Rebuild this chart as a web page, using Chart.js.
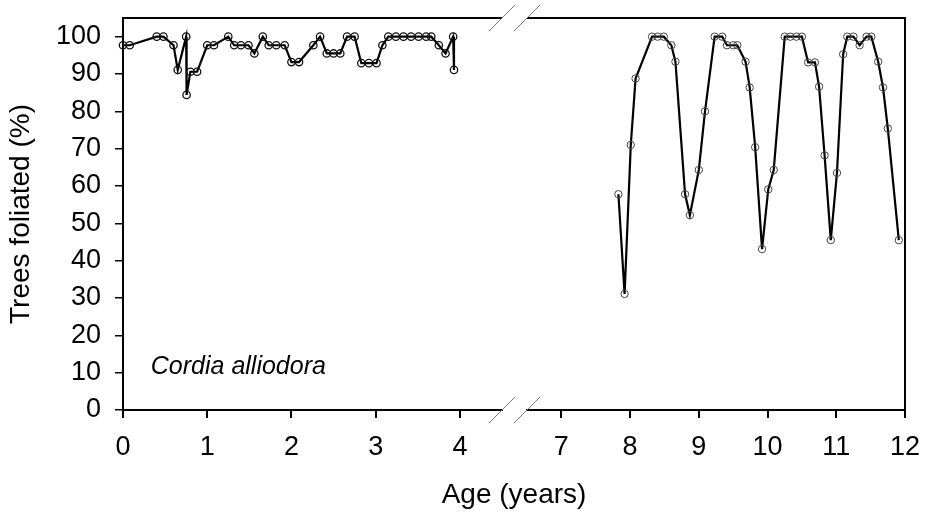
<!DOCTYPE html>
<html><head><meta charset="utf-8">
<script src="https://cdn.jsdelivr.net/npm/chart.js@4/dist/chart.umd.min.js"></script>
<style>html,body{margin:0;padding:0;background:#fff}</style>
</head><body>
<canvas id="c" width="927" height="516" style="width:927px;height:516px;display:block"></canvas>
<script>
// ---- data ----
const leftAges = [0.00, 0.08, 0.40, 0.48, 0.60, 0.65, 0.75, 0.755, 0.80, 0.88, 1.00, 1.08, 1.25, 1.32, 1.40, 1.49, 1.56, 1.66, 1.73, 1.82, 1.92, 2.00, 2.09, 2.26, 2.34, 2.42, 2.50, 2.58, 2.66, 2.75, 2.83, 2.92, 3.01, 3.08, 3.15, 3.24, 3.33, 3.42, 3.51, 3.60, 3.66, 3.75, 3.83, 3.92, 3.93];
const leftFoliated = [97.7, 97.7, 100, 100, 97.7, 91.1, 100, 84.4, 90.6, 90.6, 97.7, 97.7, 100, 97.7, 97.7, 97.7, 95.5, 100, 97.7, 97.7, 97.7, 93.2, 93.2, 97.7, 100, 95.5, 95.5, 95.5, 100, 100, 92.9, 92.9, 92.9, 97.7, 100, 100, 100, 100, 100, 100, 100, 97.7, 95.5, 100, 91.1];
const rightAges = [7.83, 7.92, 8.01, 8.08, 8.32, 8.40, 8.49, 8.60, 8.66, 8.80, 8.87, 9.00, 9.09, 9.23, 9.34, 9.41, 9.50, 9.56, 9.68, 9.74, 9.82, 9.92, 10.01, 10.09, 10.25, 10.33, 10.42, 10.50, 10.59, 10.69, 10.75, 10.83, 10.92, 11.01, 11.10, 11.16, 11.25, 11.34, 11.44, 11.51, 11.61, 11.68, 11.75, 11.91];
const rightFoliated = [57.8, 31.1, 71.0, 88.8, 100, 100, 100, 97.7, 93.3, 57.8, 52.2, 64.3, 80.0, 100, 100, 97.7, 97.7, 97.7, 93.3, 86.4, 70.4, 43.1, 59.1, 64.3, 100, 100, 100, 100, 93.1, 93.1, 86.6, 68.2, 45.5, 63.5, 95.3, 100, 100, 97.7, 100, 100, 93.3, 86.4, 75.4, 45.5];
const leftTicks = [0, 1, 2, 3, 4];
const rightTicks = [7, 8, 9, 10, 11, 12];
const yTicks = [0, 10, 20, 30, 40, 50, 60, 70, 80, 90, 100];
const leftRange = [0, 4.5];
const rightRange = [6.5, 12];
const yRange = [0, 105];
const xTitle = 'Age (years)';
const yTitle = 'Trees foliated (%)';
const speciesLabel = 'Cordia alliodora';
const speciesPos = [0.33, 11.4];

// ---- chart ----
const FONT = '"Liberation Sans", Arial, sans-serif';
const toXY = (xs, ys) => xs.map((x, i) => ({x, y: ys[i]}));
const setTicks = arr => scale => { scale.ticks = arr.map(v => ({value: v})); };
const noPad = s => { s.paddingTop = 0; s.paddingBottom = 0; s.paddingLeft = 0; s.paddingRight = 0; };

const framePlugin = {
  id: 'frame',
  afterDraw(chart) {
    const {ctx, chartArea: a, scales} = chart;
    const xl = scales.xL, xr = scales.xR, y = scales.y;
    ctx.save();
    ctx.strokeStyle = '#000';
    ctx.lineWidth = 2;
    ctx.beginPath();
    ctx.moveTo(a.left, a.top); ctx.lineTo(xl.right, a.top);
    ctx.moveTo(xr.left, a.top); ctx.lineTo(a.right, a.top); ctx.lineTo(a.right, a.bottom);
    ctx.stroke();
    ctx.strokeStyle = '#7a7a7a';
    ctx.lineWidth = 1;
    ctx.beginPath();
    for (const cy of [a.top, a.bottom]) {
      for (const cx of [xl.right, xr.left]) {
        ctx.moveTo(cx - 13, cy + 13);
        ctx.lineTo(cx + 13, cy - 13);
      }
    }
    ctx.stroke();
    ctx.fillStyle = '#000';
    ctx.font = 'italic 25px ' + FONT;
    ctx.textBaseline = 'middle';
    ctx.textAlign = 'left';
    ctx.fillText(speciesLabel, xl.getPixelForValue(speciesPos[0]), y.getPixelForValue(speciesPos[1]));
    ctx.restore();
  }
};

const tickFont = {family: FONT, size: 27};
const titleFont = {family: FONT, size: 28};
const xAxisCommon = {
  type: 'linear', position: 'bottom', stack: 'age',
  grid: {display: true, drawOnChartArea: false, drawTicks: true, tickLength: 8, color: '#000', lineWidth: 2},
  border: {display: true, color: '#000', width: 2},
  ticks: {font: tickFont, color: '#000', padding: 13, maxRotation: 0, autoSkip: false},
  afterFit: s => { s.height = 60; noPad(s); }
};

new Chart(document.getElementById('c'), {
  type: 'line',
  data: {
    datasets: [
      {data: toXY(leftAges, leftFoliated), xAxisID: 'xL', yAxisID: 'y',
       borderColor: '#000', borderWidth: 2.2, tension: 0,
       pointRadius: 3.7, pointBorderWidth: 1.3, pointBorderColor: '#111', pointBackgroundColor: 'rgba(0,0,0,0)', clip: 8},
      {data: toXY(rightAges, rightFoliated), xAxisID: 'xR', yAxisID: 'y',
       borderColor: '#000', borderWidth: 2.2, tension: 0,
       pointRadius: 3.7, pointBorderWidth: 1, pointBorderColor: '#444', pointBackgroundColor: 'rgba(0,0,0,0)', clip: 8}
    ]
  },
  options: {
    responsive: false, animation: false, devicePixelRatio: 1,
    layout: {padding: {left: 0, top: 18, right: 22, bottom: 0}},
    plugins: {legend: {display: false}, tooltip: {enabled: false}},
    scales: {
      xL: Object.assign({}, xAxisCommon, {min: leftRange[0], max: leftRange[1], stackWeight: 379, afterBuildTicks: setTicks(leftTicks)}),
      xGap: {type: 'linear', position: 'bottom', stack: 'age', stackWeight: 25, min: 0, max: 1,
             grid: {display: false}, border: {display: false}, ticks: {display: false}, afterFit: s => { s.height = 60; noPad(s); }},
      xR: Object.assign({}, xAxisCommon, {min: rightRange[0], max: rightRange[1], stackWeight: 378, afterBuildTicks: setTicks(rightTicks)}),
      xTitle: {type: 'linear', position: 'bottom', weight: 10, min: 0, max: 1,
               grid: {display: false}, border: {display: false}, ticks: {display: false},
               title: {display: true, text: xTitle, font: titleFont, color: '#000', padding: {top: 0, bottom: 4}},
               afterFit: s => { s.height = 46; noPad(s); }},
      y: {type: 'linear', position: 'left', min: yRange[0], max: yRange[1],
          afterBuildTicks: setTicks(yTicks),
          grid: {display: true, drawOnChartArea: false, drawTicks: true, tickLength: 8, color: '#000', lineWidth: 1.5},
          border: {display: true, color: '#000', width: 2},
          ticks: {font: tickFont, color: '#000', padding: 14},
          title: {display: true, text: yTitle, font: titleFont, color: '#000', padding: {top: 4, bottom: 0}},
          afterFit: s => { s.width = 123; noPad(s); }}
    }
  },
  plugins: [framePlugin]
});
</script>
</body></html>
